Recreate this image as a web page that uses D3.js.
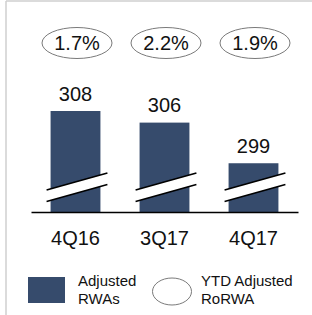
<!DOCTYPE html>
<html>
<head>
<meta charset="utf-8">
<script src="https://cdn.jsdelivr.net/npm/d3@7"></script>
<style>
  body { margin: 0; background: #fff; }
  svg { display: block; font-family: "Liberation Sans", Arial, sans-serif; }
</style>
</head>
<body>
<svg id="chart"></svg>
<script>
// chart values
const quarters = ['4Q16', '3Q17', '4Q17'];
const rwas = [308, 306, 299];
const rorwa = ['1.7%', '2.2%', '1.9%'];
const legendLabels = [['Adjusted', 'RWAs'], ['YTD Adjusted', 'RoRWA']];

const BAR_COLOR = '#364b6c';
const W = 312, H = 315;
const BASE_Y = 212;

const svg = d3.select('#chart')
  .attr('width', W)
  .attr('height', H);

// light frame on top and left
svg.append('line')
  .attr('x1', 6).attr('y1', 1).attr('x2', W).attr('y2', 1)
  .attr('stroke', '#cfcfcf').attr('stroke-width', 1.5);
svg.append('line')
  .attr('x1', 6).attr('y1', 1).attr('x2', 6).attr('y2', H)
  .attr('stroke', '#cfcfcf').attr('stroke-width', 1.5);

const xScale = d3.scaleBand()
  .domain(quarters)
  .range([31, 298])
  .paddingInner(0.44)
  .paddingOuter(0.22);

// broken axis: the scale starts well above zero
const yScale = d3.scaleLinear()
  .domain([290.6, 308])
  .range([BASE_Y, 111]);

const bars = svg.append('g')
  .selectAll('g')
  .data(quarters.map((q, i) => ({ q: q, v: rwas[i], pct: rorwa[i] })))
  .join('g');

bars.append('rect')
  .attr('x', d => xScale(d.q))
  .attr('y', d => yScale(d.v))
  .attr('width', xScale.bandwidth())
  .attr('height', d => BASE_Y - yScale(d.v))
  .attr('fill', BAR_COLOR);

// axis break marks: white band between two slanted lines
const bx0 = d => xScale(d.q) - 4;
const bx1 = d => xScale(d.q) + xScale.bandwidth() + 7;
bars.append('polygon')
  .attr('points', d => `${bx0(d)},190 ${bx1(d)},173 ${bx1(d)},184.5 ${bx0(d)},201.5`)
  .attr('fill', '#fff');
bars.append('line')
  .attr('x1', bx0).attr('y1', 190)
  .attr('x2', bx1).attr('y2', 173)
  .attr('stroke', '#000').attr('stroke-width', 1.6);
bars.append('line')
  .attr('x1', bx0).attr('y1', 201.5)
  .attr('x2', bx1).attr('y2', 184.5)
  .attr('stroke', '#000').attr('stroke-width', 1.6);

// value labels
bars.append('text')
  .attr('x', d => xScale(d.q) + xScale.bandwidth() / 2)
  .attr('y', d => yScale(d.v) - 10.5)
  .attr('text-anchor', 'middle')
  .attr('font-size', 20)
  .attr('fill', '#111')
  .text(d => d.v);

// RoRWA ellipses
bars.append('ellipse')
  .attr('cx', d => xScale(d.q) + xScale.bandwidth() / 2 + 1.5)
  .attr('cy', 43)
  .attr('rx', 35)
  .attr('ry', 15.5)
  .attr('fill', '#fff')
  .attr('stroke', '#7a7a7a')
  .attr('stroke-width', 1);
bars.append('text')
  .attr('x', d => xScale(d.q) + xScale.bandwidth() / 2 + 1.5)
  .attr('y', 50)
  .attr('text-anchor', 'middle')
  .attr('font-size', 20)
  .attr('fill', '#111')
  .text(d => d.pct);

// baseline + category labels
const xAxis = svg.append('g')
  .attr('transform', `translate(0,${BASE_Y})`)
  .call(d3.axisBottom(xScale).tickSize(0).tickPadding(19));
xAxis.select('.domain')
  .attr('stroke', '#000')
  .attr('stroke-width', 1.6);
xAxis.selectAll('text')
  .attr('font-size', 20)
  .attr('font-family', '"Liberation Sans", Arial, sans-serif')
  .attr('fill', '#111');

// legend
const legend = svg.append('g');
legend.append('rect')
  .attr('x', 28).attr('y', 277)
  .attr('width', 37).attr('height', 26)
  .attr('fill', BAR_COLOR);
legend.append('ellipse')
  .attr('cx', 172).attr('cy', 291.5)
  .attr('rx', 19.5).attr('ry', 13.5)
  .attr('fill', '#fff')
  .attr('stroke', '#7a7a7a')
  .attr('stroke-width', 1);

const legendX = [78, 201];
legendLabels.forEach((lines, i) => {
  const t = legend.append('text')
    .attr('font-size', 15)
    .attr('fill', '#111');
  lines.forEach((s, j) => {
    t.append('tspan')
      .attr('x', legendX[i])
      .attr('y', 285.5 + j * 18.5)
      .text(s);
  });
});
</script>
</body>
</html>
